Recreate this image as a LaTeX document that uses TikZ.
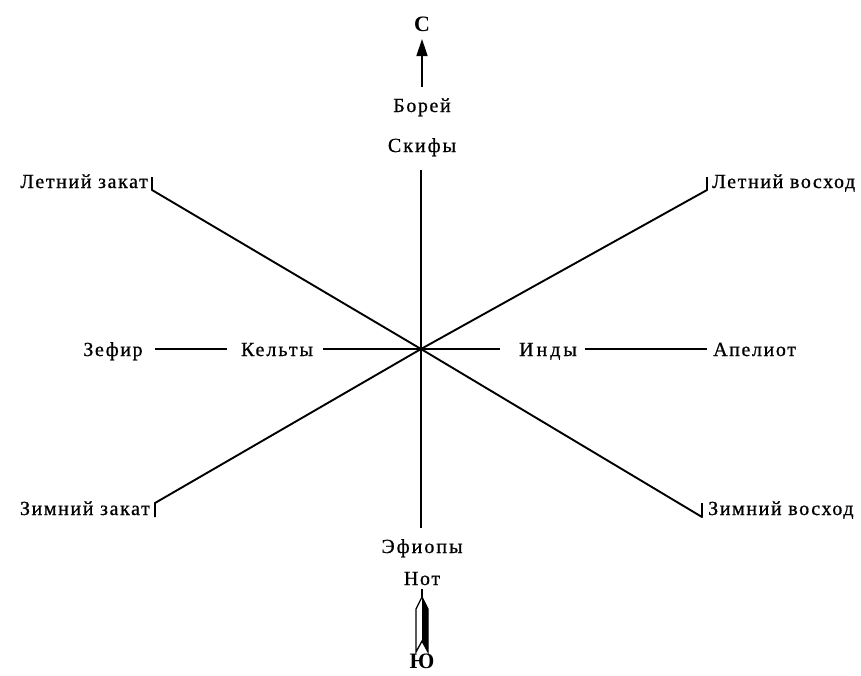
\documentclass[tikz,border=0pt]{standalone}
\usepackage{fontspec}
\setmainfont{Liberation Serif}
\newfontfamily\regfont[LetterSpace=8,FakeBold=0.8]{Liberation Serif}
\newfontfamily\spacedfont[LetterSpace=10,FakeBold=0.8]{Liberation Serif}
\newfontfamily\widefont[LetterSpace=15,FakeBold=0.8]{Liberation Serif}
\usetikzlibrary{arrows.meta}
\begin{document}
\begin{tikzpicture}[x=1pt,y=-1pt,
  lbl/.style={inner sep=0pt, anchor=base, font=\regfont\fontsize{20}{24}\selectfont},
  ppl/.style={inner sep=0pt, anchor=base, font=\spacedfont\fontsize{20}{24}\selectfont},
  wppl/.style={inner sep=0pt, anchor=base, font=\widefont\fontsize{20}{24}\selectfont},
  cardinal/.style={inner sep=0pt, anchor=base, font=\bfseries\fontsize{22}{24}\selectfont},
  ln/.style={line width=1.9pt, line join=round}]
\useasboundingbox (0,0) rectangle (861,675);
% centre
\coordinate (O) at (421,349);
% north
\node[cardinal] (north) at (422,31) {С};
\coordinate (ntail) at (422,87);
\coordinate (nhead) at (422,39);
\draw[line width=1.5pt, -{Triangle[length=17pt,width=11pt]}] (ntail) -- (nhead);
\node[lbl] (borei) at (422,112) {Борей};
\node[ppl] (skify) at (422,152) {Скифы};
% vertical line
\coordinate (vt) at (421,170);
\coordinate (vb) at (421,528);
\draw[ln] (vt) -- (vb);
\node[ppl] (efiopy) at (422,553) {Эфиопы};
\node[lbl] (notus) at (422,585) {Нот};
% south arrow (fletching)
\coordinate (sstem) at (422,589);
\coordinate (stip) at (422,597);
\draw[line width=1.3pt] (sstem) -- (stip);
\fill (stip) -- (428,609) -- (428,652) -- (422,641) -- cycle;
\draw[line width=1.3pt, line join=miter] (stip) -- (428,609) -- (428,652) -- (422,641) -- (416,652) -- (416,609) -- cycle;
\node[cardinal] (south) at (422,668) {Ю};
% diagonals
\coordinate (s1) at (152,190); \coordinate (s1t) at (152,177);
\coordinate (w2) at (702,517); \coordinate (w2t) at (702,503);
\coordinate (w1) at (155,503); \coordinate (w1t) at (155,517);
\coordinate (s2) at (707,190); \coordinate (s2t) at (707,177);
\draw[ln] (s1t) -- (s1) -- (O) -- (w2) -- (w2t);
\draw[ln] (w1t) -- (w1) -- (O) -- (s2) -- (s2t);
\node[lbl, anchor=base east] (lzak) at (148,188) {Летний закат};
\node[lbl, anchor=base west] (lvos) at (712,188) {Летний восход};
\node[lbl, anchor=base east] (zzak) at (150,515) {Зимний закат};
\node[lbl, anchor=base west] (zvos) at (708,515) {Зимний восход};
% horizontal
\node[lbl] (zefir) at (113,356) {Зефир};
\node[ppl] (kelty) at (277,356) {Кельты};
\node[wppl] (indy) at (548,356) {Инды};
\node[lbl, anchor=base west] (apeliot) at (713,356) {Апелиот};
\coordinate (h1) at (155,349); \coordinate (h2) at (227,349);
\coordinate (h3) at (323,349); \coordinate (h4) at (500,349);
\coordinate (h5) at (585,349); \coordinate (h6) at (707,349);
\draw[ln] (h1) -- (h2);
\draw[ln] (h3) -- (h4);
\draw[ln] (h5) -- (h6);
\end{tikzpicture}
\end{document}
